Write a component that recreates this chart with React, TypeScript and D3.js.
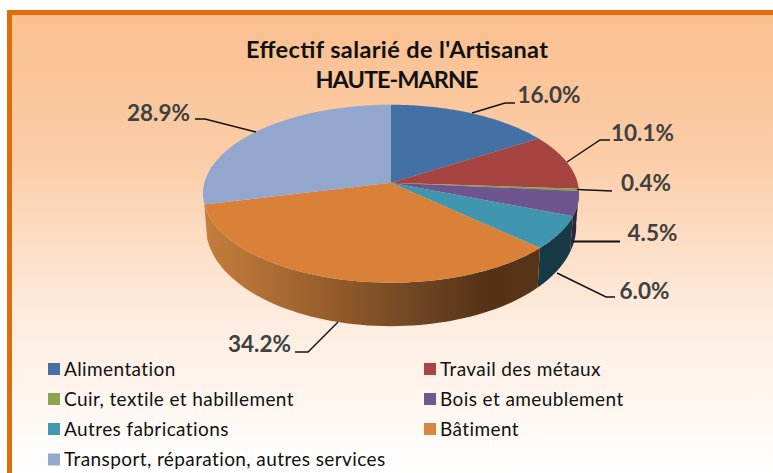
import React from "react";
import * as d3 from "d3";

const categories = ["Alimentation", "Travail des métaux", "Cuir, textile et habillement", "Bois et ameublement", "Autres fabrications", "Bâtiment", "Transport, réparation, autres services"];
const shares = [16.0, 10.1, 0.4, 4.5, 6.0, 34.2, 28.9];
const topColors = ["#4371A6", "#A64442", "#86A44A", "#6F5590", "#3F96AE", "#D98039", "#92A6CE"];
const legendColors = ["#4371A6", "#AA4644", "#89A54E", "#71588F", "#4198AF", "#DB843D", "#93A9CF"];
const wallColors = ["none", "none", "#4e602c", "#2D2440", "#183A47", "url(#wallBat)", "none"];
const titleLines = ["Effectif salarié de l'Artisanat", "HAUTE-MARNE"];
const titleWidths = [302, 163];

const W = 773, H = 473;
const cx = 391, cy = 182.7, B = 186.6, A = 87.6, K = 0.1236;

const project = (a: number): [number, number] => {
  const X = Math.sin(a), Y = -Math.cos(a), q = 1 - K * Y;
  return [cx + (B * X) / q, cy + (A * Y) / q];
};
const projectLow = (a: number): [number, number] => {
  const [x, y] = project(a);
  const Y = -Math.cos(a);
  return [cx + (x - cx) * 0.985, y + 31 + 12.5 * Y];
};

const sliceFn = d3.pie<number>().sort(null).value((d) => d);
const arcs = sliceFn(shares);
const line = d3.line();
const samples = (a0: number, a1: number) => d3.range(0, 61).map((i) => a0 + ((a1 - a0) * i) / 60);

const topPath = (a0: number, a1: number) =>
  line([[cx, cy], ...samples(a0, a1).map(project)]) + "Z";
const wallPath = (a0: number, a1: number) => {
  const s = samples(a0, a1);
  return line([...s.map(project), ...[...s].reverse().map(projectLow)]) + "Z";
};

// label layout: text position and leader polyline, in pixels
const labelLayout = [
  { x: 549, y: 102.5, sw: 1.4, pts: [[472, 113], [505, 103], [515, 103]] },
  { x: 642.5, y: 141, sw: 1.4, pts: [[567, 162], [600, 140], [610, 140]] },
  { x: 646, y: 191, sw: 1.4, pts: [[577, 189.5], [612, 191]] },
  { x: 652.5, y: 241, sw: 2, pts: [[573, 241.5], [620, 241.5]] },
  { x: 644.5, y: 299, sw: 1.4, pts: [[557, 273], [606, 297], [615, 297]] },
  { x: 259.5, y: 352, sw: 1.4, pts: [[338, 322], [308, 352], [295, 352]] },
  { x: 158.5, y: 121, sw: 1.4, pts: [[256, 132], [205, 119], [195, 119]] },
];

const legendX = [48, 424];
const legendRows = [363, 393, 423, 453.5];

export default function App() {
  return (
    <svg width={W} height={H} viewBox={`0 0 ${W} ${H}`} style={{ position: "fixed", left: 0, top: 0 }}>
      <defs>
        <linearGradient id="bg" x1="0" y1="0" x2="0" y2="1">
          <stop offset="0" stopColor="#FAC090" />
          <stop offset="0.3" stopColor="#FBCCA6" />
          <stop offset="0.65" stopColor="#FDEBDD" />
          <stop offset="1" stopColor="#FFFFFF" />
        </linearGradient>
        <linearGradient id="wallBat" gradientUnits="userSpaceOnUse" x1="205" y1="0" x2="541" y2="0">
          <stop offset="0" stopColor="#C47E3C" />
          <stop offset="0.3" stopColor="#A0632E" />
          <stop offset="0.6" stopColor="#744824" />
          <stop offset="0.85" stopColor="#553116" />
          <stop offset="1" stopColor="#583417" />
        </linearGradient>
      </defs>
      <rect width={W} height={H} fill="#FFFFFF" />
      <rect x={7} y={10} width={W} height={H} fill="#E36C0A" />
      <rect x={12} y={15} width={W} height={H - 15} fill="url(#bg)" />

      {titleLines.map((t, i) => (
        <text key={t} x={397} y={58 + i * 30} textAnchor="middle" fontFamily="Lato" fontWeight={700} fontSize={23.5} textLength={titleWidths[i]} lengthAdjust="spacing" fill="#111">
          {t}
        </text>
      ))}

      {arcs.map((d, i) => {
        const a0 = Math.max(d.startAngle, Math.PI / 2);
        const a1 = Math.min(d.endAngle, (Math.PI * 3) / 2);
        return a1 > a0 && wallColors[i] !== "none" ? <path key={i} d={wallPath(a0, a1)} fill={wallColors[i]} /> : null;
      })}
      {arcs.map((d, i) => (
        <path key={i} d={topPath(d.startAngle, d.endAngle)} fill={topColors[i]} />
      ))}

      {shares.map((v, i) => (
        <g key={i}>
          <path d={line(labelLayout[i].pts as [number, number][]) ?? ""} fill="none" stroke="#111" strokeWidth={labelLayout[i].sw} />
          <text x={labelLayout[i].x} y={labelLayout[i].y} textAnchor="middle" fontFamily="Lato" fontWeight={700} fontSize={22.5} fill="#404040">
            {v.toFixed(1)}%
          </text>
        </g>
      ))}

      {categories.map((c, i) => {
        const x = legendX[i % 2];
        const y = legendRows[Math.floor(i / 2)];
        return (
          <g key={c}>
            <rect x={x} y={y} width={12} height={12} fill={legendColors[i]} />
            <text x={x + 16} y={y + 12.5} fontFamily="Lato" fontSize={19} letterSpacing={0.4} fill="#111">
              {c}
            </text>
          </g>
        );
      })}
    </svg>
  );
}
